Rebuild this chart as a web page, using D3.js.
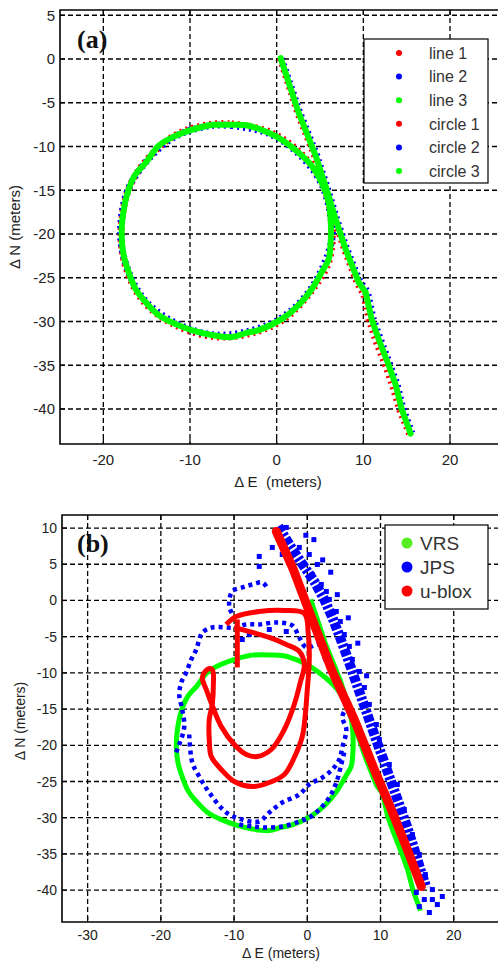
<!DOCTYPE html>
<html>
<head>
<meta charset="utf-8">
<script src="https://cdn.jsdelivr.net/npm/d3@7"></script>
<style>
  body { margin: 0; background: #fff; }
  svg { display: block; }
  text { font-family: Arial, "Liberation Sans", sans-serif; fill: #222; }
</style>
</head>
<body>
<div id="chart"></div>
<script>
// ---- panel (a): three line runs and three circle runs (meters) ----
const line1E = [0.40, 2.45, 4.40, 5.70, 6.75, 7.85, 9.30, 10.05, 10.70, 11.45, 12.60, 13.40, 14.20, 15.35];
const line1N = [0.10, -6.20, -11.10, -15.00, -18.40, -21.80, -25.60, -26.90, -29.90, -32.20, -35.10, -37.40, -40.10, -42.90];
const line2E = [0.55, 2.65, 4.62, 5.88, 6.92, 8.08, 9.60, 10.45, 11.12, 11.92, 13.05, 13.88, 14.55, 15.60];
const line2N = [0.05, -6.10, -11.00, -14.85, -18.30, -21.70, -25.45, -26.55, -29.65, -31.90, -34.90, -37.15, -39.90, -42.75];
const line3E = [0.46, 2.54, 4.50, 5.77, 6.81, 7.96, 9.46, 10.27, 10.96, 11.76, 12.92, 13.73, 14.42, 15.46];
const line3N = [0.11, -6.15, -11.05, -14.92, -18.34, -21.75, -25.51, -26.65, -29.73, -32.00, -34.97, -37.24, -39.98, -42.82];

const circle1E = [-5.2, -0.9, 2.6, 5.2, 6.3, 6.1, 4.1, 0.6, -3.6, -7.5, -11.7, -15.2, -17.2, -17.95, -17.2, -15.2, -11.7, -7.5, -5.2];
const circle1N = [-7.4, -8.3, -10.6, -14.0, -18.3, -22.9, -26.4, -29.9, -31.5, -31.7, -30.4, -27.9, -24.4, -20.4, -15.2, -11.8, -8.7, -7.45, -7.4];
const circle2E = [-5.2, -0.95, 2.5, 5.15, 6.3, 6.3, 4.0, 0.55, -3.6, -7.5, -11.6, -15.1, -17.1, -18.0, -17.3, -15.2, -11.7, -7.5, -5.2];
const circle2N = [-7.6, -8.5, -10.8, -14.2, -18.4, -21.0, -26.2, -29.6, -31.2, -31.5, -30.2, -27.7, -24.3, -20.3, -15.3, -11.9, -8.85, -7.6, -7.6];
const circle3E = [-7.50, -5.19, -3.23, -0.92, 0.58, 2.54, 4.04, 5.19, 6.00, 6.23, 6.23, 6.00, 5.19, 4.04, 2.54, 0.58, -2.08, -3.58,
  -5.19, -7.50, -9.80, -11.65, -13.61, -15.11, -16.26, -17.07, -17.65, -17.88, -17.80, -17.20, -16.30, -15.10, -13.61, -11.65, -9.80, -7.50];
const circle3N = [-7.52, -7.52, -7.63, -8.43, -9.23, -10.71, -12.19, -14.12, -16.40, -18.34, -20.96, -22.89, -24.37, -26.31, -28.13, -29.73, -30.98, -31.32,
  -31.78, -31.55, -30.98, -30.30, -29.27, -27.79, -26.31, -24.37, -22.44, -20.39, -18.34, -15.26, -13.20, -11.85, -9.91, -8.77, -8.09, -7.52];

const legendA = ['line 1', 'line 2', 'line 3', 'circle 1', 'circle 2', 'circle 3'];

// ---- panel (b): VRS / JPS / u-blox ----
const vrsLineE = line3E, vrsLineN = line3N;
const vrsCircleE = circle3E, vrsCircleN = circle3N;

const jpsBandE = [-3.96, -2.46, -0.82, 0.96, 2.32, 3.42, 4.37, 5.33, 6.28, 7.24, 8.20, 9.29, 10.38, 11.48, 12.57, 13.66, 14.62, 15.44, 16.26];
const jpsBandN = [10.22, 7.73, 5.25, 2.62, 0.14, -2.35, -4.83, -7.46, -10.22, -12.98, -15.75, -18.92, -21.96, -25.14, -28.18, -31.35, -34.39, -37.15, -39.64];
const jpsTopArcE = [-5.60, -6.15, -7.51, -8.88, -10.25, -10.66, -9.97];
const jpsTopArcN = [1.93, 2.49, 2.21, 1.80, 1.24, -0.83, -2.35];
const jpsOuterE = [3.42, 2.60, 1.64, -0.14, -1.09, -2.05, -4.23, -6.56, -8.33, -9.97, -12.98, -14.34, -14.75, -15.16, -15.85, -16.53, -17.21, -17.49, -17.08, -16.80, -17.49, -18.17];
const jpsOuterN = [-8.84, -8.43, -6.08, -6.49, -5.11, -3.45, -3.04, -3.31, -3.31, -3.73, -3.73, -4.42, -5.39, -6.77, -8.15, -9.94, -11.33, -12.98, -15.06, -17.40, -19.89, -21.55];
const jpsInnerE = [-16.12, -15.71, -14.75, -13.39, -11.07, -8.88, -6.56, -5.19, -3.42, -1.09, 0.27, 2.05, 3.42, 4.37, 4.78, 5.33, 4.78, 5.74];
const jpsInnerN = [-18.51, -22.38, -24.31, -26.52, -29.28, -30.25, -30.52, -29.28, -27.90, -26.80, -25.41, -24.45, -23.34, -21.96, -20.30, -17.82, -16.02, -14.36];
const jpsLowerE = [-9.29, -7.51, -5.60, -3.42, -1.09, 0.27, 1.64, 3.01, 3.96, 4.64, 5.05];
const jpsLowerN = [-30.94, -31.22, -31.35, -31.22, -30.52, -29.97, -28.87, -27.21, -25.14, -22.65, -20.99];
const jpsDotE = [-1.09, 0.27, 1.37, 0.68, 1.91, 2.60, 3.01, 3.96, 4.51, 5.05, 5.74, 6.15, 7.10, 7.79, 8.47, 9.43, 9.84, 11.20, 12.30, 13.25,
  14.34, 15.30, 16.12, 17.08, 14.89, 15.30, 16.67, 17.08, 18.44, 17.76, 15.98, -2.87, -4.23, -4.78, -3.42, -6.56, -6.56, -2.87, -5.19, -7.92, -8.88,
  2.10, 3.20, 4.10, 5.60, 6.90, 8.10, 0.90, -0.20];
const jpsDotN = [7.32, 6.35, 4.97, 3.59, 2.21, 1.24, 0.14, -1.52, -2.90, -4.70, -6.35, -8.15, -9.81, -12.02, -14.36, -17.13, -19.20, -22.65, -25.41, -28.87,
  -32.32, -35.08, -37.85, -39.92, -40.33, -42.27, -43.09, -41.30, -40.88, -41.99, -41.30, 10.08, 9.12, 7.32, 6.35, 6.08, 4.70, -4.28, -4.01, -4.70, -5.39,
  5.60, 3.90, 0.80, -2.40, -5.90, -10.40, 8.40, 9.00];

const uBloxLineE = [-4.23, -1.91, 0.41, 3.42, 6.42, 9.15, 11.48, 13.66, 15.57];
const uBloxLineN = [9.53, 4.28, -1.93, -9.81, -16.44, -23.34, -28.87, -34.39, -39.50];
const uBloxLoopE = [-11.07, -9.70, -6.56, -3.14, -0.41, 0.14, 0.27, 0.00, -0.27, -0.68, -1.78, -3.14, -5.19, -7.51, -9.97, -11.75, -13.11, -13.39, -13.39, -12.98,
  -12.84, -12.98, -13.66, -14.34, -13.80, -12.98, -11.75, -9.97, -8.33, -6.83, -4.92, -3.14, -1.78, -0.96, -0.41, -1.09, -2.87, -5.19, -7.51, -9.97];
const uBloxLoopN = [-3.31, -2.21, -1.52, -1.38, -1.80, -4.70, -8.15, -12.29, -15.75, -18.78, -21.69, -24.03, -25.14, -25.69, -25.00, -23.34, -21.55, -19.20, -16.44, -14.36,
  -12.02, -9.53, -9.53, -10.64, -12.29, -14.50, -17.40, -19.89, -21.27, -21.55, -20.58, -17.82, -14.36, -11.33, -8.84, -7.04, -6.08, -5.11, -4.42, -3.73];
const uBloxSpurE = [-9.56, -9.56, -9.56];
const uBloxSpurN = [-2.62, -6.08, -9.25];

const legendB = ['VRS', 'JPS', 'u-blox'];

const xTicksA = [-20, -10, 0, 10, 20];
const yTicksA = [-40, -35, -30, -25, -20, -15, -10, -5, 0, 5];
const xTicksB = [-30, -20, -10, 0, 10, 20];
const yTicksB = [-40, -35, -30, -25, -20, -15, -10, -5, 0, 5, 10];

const RED = '#ff0000', BLUE = '#0000ff', GREEN = '#00ff00';

const zip = (e, n) => e.map((v, i) => [v, n[i]]);

const svg = d3.select('#chart').append('svg')
  .attr('width', 498)
  .attr('height', 963);

function panel(opt) {
  const x = d3.scaleLinear().domain(opt.xDomain).range(opt.xRange);
  const y = d3.scaleLinear().domain(opt.yDomain).range(opt.yRange);
  const g = svg.append('g');
  const [x0, x1] = opt.xRange;
  const [y1, y0] = opt.yRange;

  g.append('rect').attr('x', x0).attr('y', y0).attr('width', x1 - x0).attr('height', y1 - y0).attr('fill', '#fff');

  // dashed grid
  g.selectAll('.gx').data(opt.xTicks).enter().append('line')
    .attr('x1', d => x(d)).attr('x2', d => x(d)).attr('y1', y0).attr('y2', y1)
    .attr('stroke', '#000').attr('stroke-width', 1.3).attr('stroke-dasharray', '5,3');
  g.selectAll('.gy').data(opt.yTicks).enter().append('line')
    .attr('y1', d => y(d)).attr('y2', d => y(d)).attr('x1', x0).attr('x2', x1)
    .attr('stroke', '#000').attr('stroke-width', 1.3).attr('stroke-dasharray', '5,3');

  const clipId = 'clip' + opt.id;
  svg.append('clipPath').attr('id', clipId).append('rect')
    .attr('x', x0).attr('y', y0).attr('width', x1 - x0).attr('height', y1 - y0);
  const plot = g.append('g').attr('clip-path', `url(#${clipId})`);

  // frame and inward ticks (drawn after data)
  const frame = svg.append('g');
  frame.append('path')
    .attr('d', `M${x1},${y0}H${x0}V${y1}H${x1}`)
    .attr('fill', 'none').attr('stroke', '#000').attr('stroke-width', 1.6);
  opt.xTicks.forEach(t => {
    frame.append('line').attr('x1', x(t)).attr('x2', x(t)).attr('y1', y1).attr('y2', y1 - 5).attr('stroke', '#000').attr('stroke-width', 1.2);
    frame.append('line').attr('x1', x(t)).attr('x2', x(t)).attr('y1', y0).attr('y2', y0 + 5).attr('stroke', '#000').attr('stroke-width', 1.2);
  });
  opt.yTicks.forEach(t => {
    frame.append('line').attr('x1', x0).attr('x2', x0 + 5).attr('y1', y(t)).attr('y2', y(t)).attr('stroke', '#000').attr('stroke-width', 1.2);
  });

  frame.selectAll('.tx').data(opt.xTicks).enter().append('text')
    .attr('x', d => x(d)).attr('y', y1 + opt.xLabOff)
    .attr('text-anchor', 'middle').style('font-size', opt.tickSize + 'px')
    .text(d => d);
  frame.selectAll('.ty').data(opt.yTicks).enter().append('text')
    .attr('x', x0 - 5).attr('y', d => y(d)).attr('dy', '0.36em')
    .attr('text-anchor', 'end').style('font-size', opt.tickSize + 'px')
    .text(d => d);

  return { x, y, plot, frame };
}

const line = (p) => d3.line().x(d => p.x(d[0])).y(d => p.y(d[1]));

// ================= panel (a) =================
const A = panel({
  id: 'a', xDomain: [-25, 26], xRange: [60, 502], yDomain: [-44, 5.6], yRange: [444, 10],
  xTicks: xTicksA, yTicks: yTicksA, tickSize: 15, xLabOff: 21
});
const lineA = line(A);
const smoothA = line(A).curve(d3.curveCatmullRom);

[[circle1E, circle1N, RED], [circle2E, circle2N, BLUE]].forEach(([e, n, c]) => {
  A.plot.append('path').attr('d', smoothA(zip(e, n))).attr('fill', 'none')
    .attr('stroke', c).attr('stroke-width', 7).attr('stroke-dasharray', '2,4');
});
[[line1E, line1N, RED], [line2E, line2N, BLUE]].forEach(([e, n, c]) => {
  A.plot.append('path').attr('d', lineA(zip(e, n))).attr('fill', 'none')
    .attr('stroke', c).attr('stroke-width', 7).attr('stroke-dasharray', '2,4');
});
A.plot.append('path').attr('d', smoothA(zip(circle3E, circle3N))).attr('fill', 'none')
  .attr('stroke', GREEN).attr('stroke-width', 6);
A.plot.append('path').attr('d', lineA(zip(line3E, line3N))).attr('fill', 'none')
  .attr('stroke', GREEN).attr('stroke-width', 6).attr('stroke-linecap', 'round');

A.frame.append('text').attr('x', 77).attr('y', 48)
  .style('font-family', '"Liberation Serif", "Times New Roman", serif')
  .style('font-weight', 'bold').style('font-size', '26px').style('fill', '#111')
  .text('(a)');
A.frame.append('text').attr('x', 278).attr('y', 487).attr('text-anchor', 'middle')
  .style('font-size', '15px').attr('xml:space', 'preserve').text('\u0394 E  (meters)');
A.frame.append('text').attr('transform', 'translate(20,227) rotate(-90)').attr('text-anchor', 'middle')
  .style('font-size', '15px').text('\u0394 N (meters)');

// legend (a)
const legA = A.frame.append('g');
legA.append('rect').attr('x', 364).attr('y', 39).attr('width', 124).attr('height', 144)
  .attr('fill', '#fff').attr('stroke', '#000').attr('stroke-width', 1.2);
const legAColors = [RED, BLUE, GREEN, RED, BLUE, GREEN];
legendA.forEach((name, i) => {
  const yy = 53 + i * 23.6;
  legA.append('circle').attr('cx', 399).attr('cy', yy).attr('r', 3).attr('fill', legAColors[i]);
  legA.append('text').attr('x', 429).attr('y', yy).attr('dy', '0.36em')
    .style('font-size', '16px').style('fill', '#333').text(name);
});

// ================= panel (b) =================
const B = panel({
  id: 'b', xDomain: [-33.5, 27], xRange: [62, 505], yDomain: [-44.4, 11.8], yRange: [922, 515],
  xTicks: xTicksB, yTicks: yTicksB, tickSize: 14, xLabOff: 18
});
const lineB = line(B);
const smoothB = line(B).curve(d3.curveCatmullRom);

// VRS
B.plot.append('path').attr('d', smoothB(zip(vrsCircleE, vrsCircleN))).attr('fill', 'none')
  .attr('stroke', GREEN).attr('stroke-width', 5);
B.plot.append('path').attr('d', lineB(zip(vrsLineE, vrsLineN))).attr('fill', 'none')
  .attr('stroke', GREEN).attr('stroke-width', 5);

// JPS
B.plot.append('path').attr('d', lineB(zip(jpsBandE, jpsBandN))).attr('fill', 'none')
  .attr('stroke', BLUE).attr('stroke-width', 10).attr('stroke-dasharray', '7,2,3,2');
[[jpsTopArcE, jpsTopArcN], [jpsOuterE, jpsOuterN], [jpsInnerE, jpsInnerN], [jpsLowerE, jpsLowerN]].forEach(([e, n]) => {
  B.plot.append('path').attr('d', smoothB(zip(e, n))).attr('fill', 'none')
    .attr('stroke', BLUE).attr('stroke-width', 4.5).attr('stroke-dasharray', '4,4');
});
B.plot.selectAll('.jd').data(zip(jpsDotE, jpsDotN)).enter().append('rect')
  .attr('x', d => B.x(d[0]) - 2.5).attr('y', d => B.y(d[1]) - 2.5)
  .attr('width', 5).attr('height', 5).attr('fill', BLUE);

// u-blox
B.plot.append('path').attr('d', lineB(zip(uBloxLineE, uBloxLineN))).attr('fill', 'none')
  .attr('stroke', RED).attr('stroke-width', 9).attr('stroke-linecap', 'round');
B.plot.append('path').attr('d', smoothB(zip(uBloxLoopE, uBloxLoopN))).attr('fill', 'none')
  .attr('stroke', RED).attr('stroke-width', 5);
B.plot.append('path').attr('d', lineB(zip(uBloxSpurE, uBloxSpurN))).attr('fill', 'none')
  .attr('stroke', RED).attr('stroke-width', 5);

B.frame.append('text').attr('x', 77).attr('y', 552)
  .style('font-family', '"Liberation Serif", "Times New Roman", serif')
  .style('font-weight', 'bold').style('font-size', '26px').style('fill', '#111')
  .text('(b)');
B.frame.append('text').attr('x', 281).attr('y', 958).attr('text-anchor', 'middle')
  .style('font-size', '14px').text('\u0394 E (meters)');
B.frame.append('text').attr('transform', 'translate(25,721) rotate(-90)').attr('text-anchor', 'middle')
  .style('font-size', '14px').text('\u0394 N (meters)');

// legend (b)
const legB = B.frame.append('g');
legB.append('rect').attr('x', 385).attr('y', 525).attr('width', 103).attr('height', 84)
  .attr('fill', '#fff').attr('stroke', '#000').attr('stroke-width', 1.2);
const legBColors = ['#55ee22', BLUE, RED];
legendB.forEach((name, i) => {
  const yy = 543 + i * 24;
  legB.append('circle').attr('cx', 407).attr('cy', yy).attr('r', 5.5).attr('fill', legBColors[i]);
  legB.append('text').attr('x', 420).attr('y', yy).attr('dy', '0.36em')
    .style('font-size', '19px').style('fill', '#333').text(name);
});
</script>
</body>
</html>
